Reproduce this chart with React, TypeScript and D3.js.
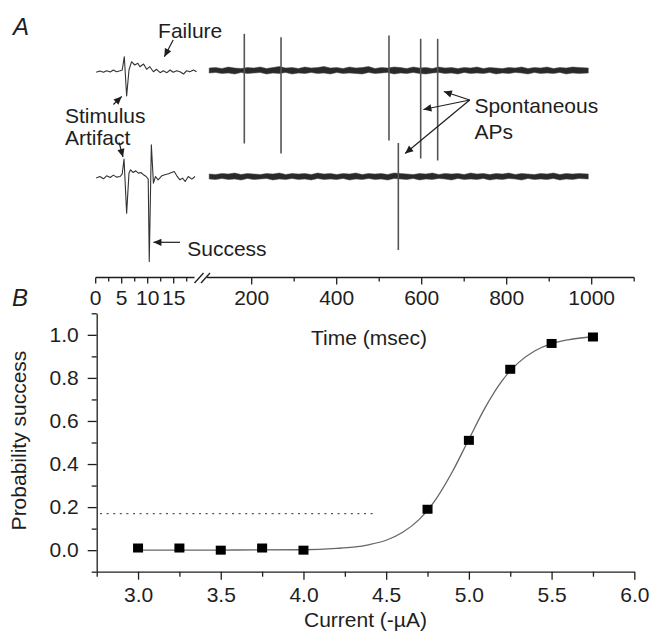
import React, { useRef, useEffect } from "react";
import * as d3 from "d3";

const W = 659;
const H = 632;

// ---- Panel A: single sweeps (time in ms, signal in a.u., positive = up) ----
// left (expanded) part of the sweep, 0-20 ms
const failureT = [0.1, 0.8, 1.5, 2.1, 2.8, 3.4, 4.0, 4.7, 5.1, 5.5, 5.95, 6.4, 6.9, 7.5, 8.1, 8.5, 9.2, 9.8, 10.4, 11.1, 11.7, 12.4, 13.0, 13.7, 14.3, 14.9, 15.6, 16.2, 16.9, 17.5, 18.1, 18.8, 19.4];
const failureV = [-1.8, -0.5, -1.8, -0.2, -1.5, 0.5, -1.2, -0.2, 0.5, 13.8, -25.5, 0.5, 8.8, 5.5, 7.2, 3.8, 6.5, 1.2, 3.8, -1.2, 1.2, -2.2, -0.2, -2.2, 0.5, -1.8, -0.2, -1.2, -3.5, -0.2, -1.2, 0.5, -1.2];
const successT = [0.1, 0.8, 1.5, 2.1, 2.8, 3.4, 4.0, 4.7, 5.1, 5.45, 5.95, 6.4, 6.7, 7.2, 7.7, 8.2, 8.7, 9.2, 9.7, 10.1, 10.3, 10.7, 11.1, 11.5, 12.0, 12.7, 13.3, 14.0, 14.6, 15.1, 15.6, 16.2, 16.7, 17.2, 17.8, 18.5, 19.1];
const successV = [-1.6, 0, -2.3, 0.7, -1, 1.4, -0.6, 0, 2.7, 17.4, -36.6, 3.4, 6.7, 4, 5.7, 3.4, 4, 1.7, 0, -2.6, -85, 31.7, -6.6, 0, -3.3, 0.7, 1.7, 2.7, 4, 5, 0.7, -3.3, -1.6, -5, 0, -2.6, 0];

// compressed part, 100-1000 ms: noise envelope of the baseline
const noiseT = [100, 115, 130, 145, 160, 175, 190, 205, 220, 235, 250, 265, 280, 295, 310, 325, 340, 355, 370, 385, 400, 415, 430, 445, 460, 475, 490, 505, 520, 535, 550, 565, 580, 595, 610, 625, 640, 655, 670, 685, 700, 715, 730, 745, 760, 775, 790, 805, 820, 835, 850, 865, 880, 895, 910, 925, 940, 955, 970, 992];
const failureHi = [2.5, 3, 2, 3.5, 2.5, 2, 3, 2.5, 3.5, 2, 3, 4, 2.5, 3, 2, 3.5, 2.5, 3, 4, 2.5, 3, 2, 3.5, 2.5, 3, 4, 2, 3, 2.5, 3.5, 3, 2, 3.5, 2.5, 3, 2, 3.5, 2.5, 3, 2, 3, 2.5, 3.5, 2, 3, 2.5, 2, 3, 2.5, 3.5, 2, 3, 2.5, 3.5, 2, 3, 2.5, 3.5, 3, 2.5];
const failureLo = [-2.5, -2, -3, -2.5, -3.5, -2, -3, -2.5, -2, -3.5, -2.5, -3, -2, -3.5, -2.5, -3, -2, -3, -2.5, -3.5, -2, -3, -2.5, -3, -3.5, -2, -3, -2.5, -2, -3.5, -2.5, -3, -2, -3, -3.5, -2.5, -2, -3, -2.5, -3.5, -2, -3, -2.5, -3, -2, -3.5, -2.5, -3, -2, -2.5, -3.5, -2, -3, -2.5, -3, -2, -3.5, -2.5, -3, -2.5];
const successHi = [2.5, 2, 3, 2.5, 3.5, 2, 3, 2.5, 2, 3, 2.5, 3.5, 2, 3, 2.5, 3, 2, 3.5, 2.5, 3, 2, 3, 2.5, 3.5, 2, 3, 2.5, 3, 2, 3.5, 3, 2.5, 2, 3, 2.5, 3.5, 2, 3, 2.5, 3, 2, 3.5, 2.5, 3, 2, 3, 2.5, 3.5, 2, 3, 2.5, 2, 3, 2.5, 3.5, 2, 3, 2.5, 3, 2.5];
const successLo = [-2.5, -3, -2, -3, -2.5, -3.5, -2, -3, -2.5, -2, -3.5, -2.5, -3, -2, -3, -2.5, -3.5, -2, -3, -2.5, -3, -2, -3.5, -2.5, -3, -2, -3, -2.5, -3.5, -2, -2.5, -3, -2, -3.5, -2.5, -3, -2, -2.5, -3.5, -2, -3, -2.5, -3, -2, -3.5, -2.5, -3, -2, -2.5, -3.5, -2, -3, -2.5, -3, -2, -3.5, -2.5, -3, -2, -2.5];

// spontaneous action potentials
const failureApT = [182.6, 269, 523, 597.6, 637.6];
const failureApPeak = [36.7, 33.3, 35, 31.7, 31.7];
const failureApTrough = [-73, -83, -70, -88, -90];
const successApT = [545];
const successApPeak = [33.5];
const successApTrough = [-73.5];

// time axis
const fineTicks = [0, 2.5, 5, 7.5, 10, 12.5, 15, 17.5];
const fineLabels = [0, 5, 10, 15];
const coarseTicks = [200, 300, 400, 500, 600, 700, 800, 900, 1000, 1100];
const coarseLabels = [200, 400, 600, 800, 1000];

// ---- Panel B: recruitment curve ----
const currents = [3.0, 3.25, 3.5, 3.75, 4.0, 4.75, 5.0, 5.25, 5.5, 5.75];
const probSuccess = [0.01, 0.01, 0.0, 0.01, 0.0, 0.19, 0.51, 0.84, 0.96, 0.99];
const fitX = [3.0, 3.5, 4.0, 4.2, 4.3, 4.4, 4.5, 4.6, 4.7, 4.8, 4.9, 5.0, 5.1, 5.2, 5.3, 5.4, 5.5, 5.6, 5.75];
const fitY = [0, 0.0005, 0.002, 0.008, 0.014, 0.026, 0.046, 0.083, 0.143, 0.236, 0.364, 0.515, 0.664, 0.786, 0.871, 0.926, 0.959, 0.977, 0.991];
const spontLevel = 0.17;
const spontRange = [2.77, 4.43];
const yMajor = [0, 0.2, 0.4, 0.6, 0.8, 1.0];
const yMinor = [-0.1, 0.1, 0.3, 0.5, 0.7, 0.9, 1.1];
const xMajor = [3.0, 3.5, 4.0, 4.5, 5.0, 5.5, 6.0];
const xMinor = [2.75, 3.25, 3.75, 4.25, 4.75, 5.25, 5.75];

const FONT = "Arial, 'Liberation Sans', sans-serif";
const INK = "#1e1e1e";

const App = () => {
  const svgRef = useRef(null);

  useEffect(() => {
    const svg = d3.select(svgRef.current);
    svg.selectAll("*").remove();

    const defs = svg.append("defs");
    defs.append("marker")
      .attr("id", "ah")
      .attr("viewBox", "0 0 10 10")
      .attr("refX", 10)
      .attr("refY", 5)
      .attr("markerUnits", "userSpaceOnUse")
      .attr("markerWidth", 9)
      .attr("markerHeight", 8)
      .attr("orient", "auto")
      .append("path")
      .attr("d", "M0,0.5 L10,5 L0,9.5 Z")
      .attr("fill", INK);

    const label = (x, y, txt, opts: any = {}) =>
      svg.append("text")
        .attr("x", x)
        .attr("y", y)
        .attr("fill", INK)
        .attr("text-anchor", opts.anchor || "start")
        .style("font-family", FONT)
        .style("font-size", `${opts.size || 21}px`)
        .style("font-style", opts.italic ? "italic" : "normal")
        .text(txt);

    // ================= Panel A =================
    const tFine = d3.scaleLinear().domain([0, 20]).range([95.7, 199.7]);
    const tCoarse = d3.scaleLinear().domain([100, 1100]).range([209.2, 634.2]);
    const vFail = d3.scaleLinear().domain([0, 1]).range([70.5, 69.5]);
    const vSucc = d3.scaleLinear().domain([0, 1]).range([176.5, 175.5]);

    const drawSweep = (T, V, Hi, Lo, apT, apPk, apTr, v) => {
      const line = d3.line<number>().x((i) => tFine(T[i])).y((i) => v(V[i]));
      svg.append("path")
        .attr("d", line(d3.range(T.length)))
        .attr("fill", "none")
        .attr("stroke", "#333")
        .attr("stroke-width", 1.1)
        .attr("stroke-linejoin", "round");

      const band = d3.area<number>()
        .x((i) => tCoarse(noiseT[i]))
        .y0((i) => v(Lo[i]))
        .y1((i) => v(Hi[i]));
      svg.append("path")
        .attr("d", band(d3.range(noiseT.length)))
        .attr("fill", "#2a2a2a")
        .attr("stroke", "#444")
        .attr("stroke-width", 0.5);

      svg.append("g")
        .selectAll("line")
        .data(apT)
        .join("line")
        .attr("x1", (d) => tCoarse(d))
        .attr("x2", (d) => tCoarse(d))
        .attr("y1", (d, i) => v(apPk[i]))
        .attr("y2", (d, i) => v(apTr[i]))
        .attr("stroke", "#555")
        .attr("stroke-width", 1.6);
    };

    drawSweep(failureT, failureV, failureHi, failureLo, failureApT, failureApPeak, failureApTrough, vFail);
    drawSweep(successT, successV, successHi, successLo, successApT, successApPeak, successApTrough, vSucc);

    // annotations
    const arrow = (x1, y1, x2, y2) =>
      svg.append("line")
        .attr("x1", x1).attr("y1", y1).attr("x2", x2).attr("y2", y2)
        .attr("stroke", INK)
        .attr("stroke-width", 1.2)
        .attr("marker-end", "url(#ah)");

    label(13, 35, "A", { size: 24, italic: true });
    label(tFine(12), vFail(33), "Failure");
    arrow(tFine(14.9), vFail(30.5), tFine(13.2), vFail(13.8));

    label(65, vFail(-52.5), "Stimulus");
    label(65, vFail(-74.5), "Artifact");
    arrow(tFine(3.4), vFail(-34), tFine(5.0), vFail(-26));
    arrow(tFine(4.5), vSucc(34), tFine(5.25), vSucc(19.5));

    arrow(tFine(16.2), vSucc(-65.8), tFine(11.1), vSucc(-65.8));
    label(tFine(17.6), vSucc(-79.5), "Success");

    const tail = [tCoarse(713), vFail(-29.5)];
    arrow(tail[0], tail[1], tCoarse(652), vFail(-21));
    arrow(tail[0], tail[1], tCoarse(604), vFail(-39));
    arrow(tail[0], tail[1], tCoarse(561), vFail(-83));
    label(tCoarse(724), vFail(-42), "Spontaneous");
    label(tCoarse(724), vFail(-68), "APs");

    // broken time axis
    const axY = 277.5;
    const ax = svg.append("g").attr("stroke", INK).attr("stroke-width", 1.3).attr("fill", "none");
    ax.append("line").attr("x1", tFine(0)).attr("x2", tFine(19)).attr("y1", axY).attr("y2", axY);
    ax.append("line").attr("x1", tCoarse(95)).attr("x2", tCoarse(1100)).attr("y1", axY).attr("y2", axY);
    [0, 6.5].forEach((dx) =>
      ax.append("line")
        .attr("x1", tFine(19) + dx).attr("y1", axY + 5.5)
        .attr("x2", tFine(19) + dx + 9).attr("y2", axY - 4.5)
    );
    const tickG = svg.append("g").attr("stroke", INK).attr("stroke-width", 1.3);
    fineTicks.forEach((t) =>
      tickG.append("line").attr("x1", tFine(t)).attr("x2", tFine(t))
        .attr("y1", axY).attr("y2", axY + (fineLabels.includes(t) ? 6 : 4))
    );
    coarseTicks.forEach((t) =>
      tickG.append("line").attr("x1", tCoarse(t)).attr("x2", tCoarse(t))
        .attr("y1", axY).attr("y2", axY + (coarseLabels.includes(t) ? 7 : 4))
    );
    fineLabels.forEach((t) => label(tFine(t), 305, String(t), { anchor: "middle" }));
    coarseLabels.forEach((t) => label(tCoarse(t), 305, String(t), { anchor: "middle" }));
    label(369, 344.5, "Time (msec)", { anchor: "middle" });

    // ================= Panel B =================
    const x = d3.scaleLinear().domain([2.75, 6.0]).range([96.7, 634.3]);
    const y = d3.scaleLinear().domain([-0.1, 1.1]).range([571.7, 313.3]);

    label(12, 306, "B", { size: 24, italic: true });

    const styleAxis = (g) => {
      g.select(".domain").attr("stroke", INK).attr("stroke-width", 1.3);
      g.selectAll(".tick line").attr("stroke", INK).attr("stroke-width", 1.3);
      g.selectAll(".tick text")
        .attr("fill", INK)
        .style("font-family", FONT)
        .style("font-size", "21px");
    };

    svg.append("g")
      .attr("transform", `translate(${x(2.75)},0)`)
      .call(d3.axisLeft(y).tickValues(yMinor).tickSize(5).tickSizeOuter(0).tickFormat(() => ""))
      .call(styleAxis);
    svg.append("g")
      .attr("transform", `translate(${x(2.75)},0)`)
      .call(d3.axisLeft(y).tickValues(yMajor).tickSize(9).tickSizeOuter(0).tickPadding(9).tickFormat(d3.format(".1f")))
      .call(styleAxis)
      .call((g) => g.select(".domain").remove());

    svg.append("g")
      .attr("transform", `translate(0,${y(-0.1)})`)
      .call(d3.axisBottom(x).tickValues(xMinor).tickSize(5).tickSizeOuter(0).tickFormat(() => ""))
      .call(styleAxis);
    svg.append("g")
      .attr("transform", `translate(0,${y(-0.1)})`)
      .call(d3.axisBottom(x).tickValues(xMajor).tickSize(8).tickSizeOuter(0).tickPadding(7).tickFormat(d3.format(".1f")))
      .call(styleAxis)
      .call((g) => g.select(".domain").remove());

    svg.append("text")
      .attr("transform", `translate(26,${(y(-0.1) + y(1.1)) / 2 - 2}) rotate(-90)`)
      .attr("text-anchor", "middle")
      .attr("fill", INK)
      .style("font-family", FONT)
      .style("font-size", "21px")
      .text("Probability success");
    label((x(2.75) + x(6.0)) / 2, 627, "Current (-µA)", { anchor: "middle" });

    // spontaneous-rate level
    svg.append("line")
      .attr("x1", x(spontRange[0])).attr("x2", x(spontRange[1]))
      .attr("y1", y(spontLevel)).attr("y2", y(spontLevel))
      .attr("stroke", "#555")
      .attr("stroke-width", 1.3)
      .attr("stroke-dasharray", "2 4.6");

    // Boltzmann fit
    const fit = d3.line<number>().x((i) => x(fitX[i])).y((i) => y(fitY[i])).curve(d3.curveMonotoneX);
    svg.append("path")
      .attr("d", fit(d3.range(fitX.length)))
      .attr("fill", "none")
      .attr("stroke", "#666")
      .attr("stroke-width", 1.3);

    svg.append("g")
      .selectAll("rect")
      .data(currents)
      .join("rect")
      .attr("x", (d) => x(d) - 5)
      .attr("y", (d, i) => y(probSuccess[i]) - 4.5)
      .attr("width", 10)
      .attr("height", 9)
      .attr("fill", "#000");
  }, []);

  return (
    <svg
      ref={svgRef}
      width={W}
      height={H}
      viewBox={`0 0 ${W} ${H}`}
      style={{ position: "absolute", left: 0, top: 0, background: "#fff" }}
    />
  );
};

export default App;
